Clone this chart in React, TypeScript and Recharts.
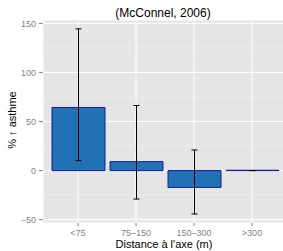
import React from 'react';
import {
  ComposedChart,
  Bar,
  XAxis,
  YAxis,
  CartesianGrid,
  ErrorBar,
} from 'recharts';

const categories = ['<75', '75–150', '150–300', '>300'];
const values = [64.3, 9.1, -17.2, 0];
const lowerBounds = [10.1, -29, -44.2, 0];
const upperBounds = [144.4, 66.3, 21, 0];
const yTicks = [-50, 0, 50, 100, 150];
const yMinorTicks = [-25, 25, 75, 125];
const yDomain = [-53.4, 153.4];

const title = '(McConnel, 2006)';
const xLabel = "Distance à l'axe (m)";
const yLabel = '% ↑ asthme';

const data = categories.map((c, i) => ({
  cat: c,
  value: values[i],
  err: [values[i] - lowerBounds[i], upperBounds[i] - values[i]],
}));

const FONT = '"Liberation Sans", Arial, Helvetica, sans-serif';

export default function App() {
  return (
    <div
      style={{
        position: 'absolute',
        left: 0,
        top: 0,
        width: 283,
        height: 251,
        overflow: 'hidden',
        fontFamily: FONT,
        background: '#fff',
      }}
    >
      <ComposedChart
        width={287}
        height={251}
        data={data}
        margin={{ top: 20, right: 0, bottom: 0, left: 0 }}
      >
        <CartesianGrid
          fill="#E5E5E5"
          stroke="#F2F2F2"
          strokeWidth={0.6}
          horizontal={true}
          vertical={false}
          horizontalValues={yMinorTicks}
        />
        <CartesianGrid
          stroke="#FFFFFF"
          strokeWidth={1}
          horizontal={true}
          vertical={true}
        />
        <XAxis
          dataKey="cat"
          type="category"
          height={28}
          padding={{ left: 6, right: 6 }}
          axisLine={false}
          tickSize={3}
          tickMargin={4}
          tickLine={{ stroke: '#7F7F7F' }}
          tick={{ fill: '#7F7F7F', fontSize: 9, fontFamily: FONT }}
          interval={0}
        />
        <YAxis
          type="number"
          domain={yDomain}
          ticks={yTicks}
          allowDataOverflow
          width={43}
          axisLine={false}
          tickSize={4}
          tickMargin={3}
          tickLine={{ stroke: '#7F7F7F' }}
          tick={{ fill: '#7F7F7F', fontSize: 9, fontFamily: FONT }}
          tickFormatter={(v: number) => String(v).replace('-', '−')}
        />
        <Bar
          dataKey="value"
          fill="#2171B5"
          stroke="#1A1A9C"
          strokeWidth={1}
          barSize={53}
          minPointSize={0.3}
          isAnimationActive={false}
        >
          <ErrorBar
            dataKey="err"
            width={3}
            stroke="#000"
            strokeWidth={1}
            direction="y"
            isAnimationActive={false}
          />
        </Bar>
      </ComposedChart>
      <div
        style={{
          position: 'absolute',
          left: 163,
          top: 13,
          transform: 'translate(-50%, -50%)',
          fontSize: 12,
          lineHeight: '12px',
          whiteSpace: 'nowrap',
          color: '#000',
        }}
      >
        {title}
      </div>
      <div
        style={{
          position: 'absolute',
          left: 164,
          top: 244,
          transform: 'translate(-50%, -50%)',
          fontSize: 11,
          lineHeight: '11px',
          whiteSpace: 'nowrap',
          color: '#000',
        }}
      >
        {xLabel}
      </div>
      <div
        style={{
          position: 'absolute',
          left: 12,
          top: 120,
          transform: 'translate(-50%, -50%) rotate(-90deg)',
          fontSize: 11,
          lineHeight: '11px',
          whiteSpace: 'nowrap',
          color: '#000',
        }}
      >
        {yLabel}
      </div>
    </div>
  );
}
